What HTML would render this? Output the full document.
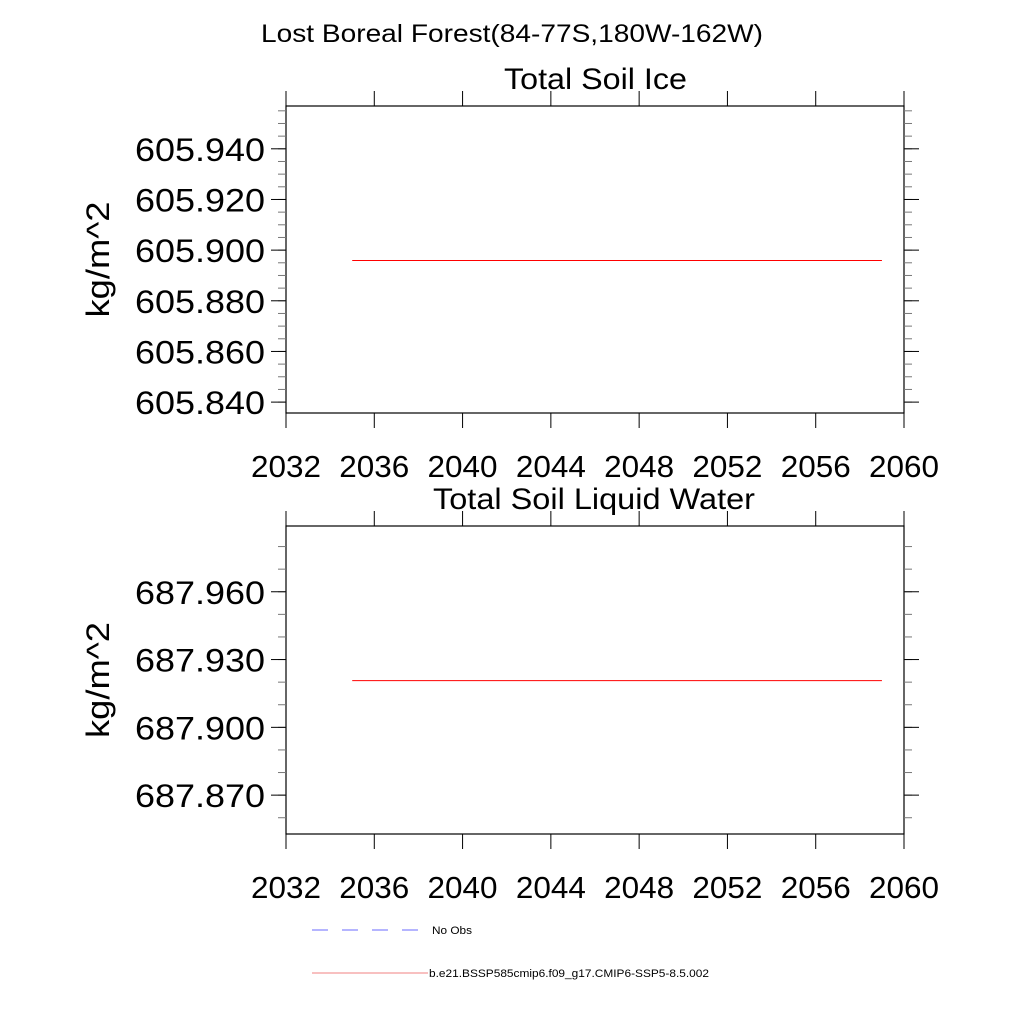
<!DOCTYPE html>
<html><head><meta charset="utf-8"><style>
body{margin:0;background:#fff;}
svg{display:block;font-family:"Liberation Sans",sans-serif;}
</style></head><body>
<svg id="c" width="1024" height="1024" viewBox="0 0 1024 1024">
<text x="512" y="42" font-size="25" text-anchor="middle" textLength="502" lengthAdjust="spacingAndGlyphs">Lost Boreal Forest(84-77S,180W-162W)</text>
<g>
<line x1="312" y1="930" x2="420" y2="930" stroke="#6b6bff" stroke-width="1" stroke-dasharray="16,14"/>
<text x="432" y="934" font-size="11" textLength="40" lengthAdjust="spacingAndGlyphs">No Obs</text>
<line x1="312" y1="973" x2="428" y2="973" stroke="#f08080" stroke-width="1"/>
<text x="429" y="977" font-size="11" textLength="280" lengthAdjust="spacingAndGlyphs">b.e21.BSSP585cmip6.f09_g17.CMIP6-SSP5-8.5.002</text>
</g>
</svg>
<script>
const years1 = [2035, 2059];
const ice = [605.8959, 605.8959];
const years2 = [2035, 2059];
const liquid = [687.9207, 687.9207];
const xTicks = [2032, 2036, 2040, 2044, 2048, 2052, 2056, 2060];
const yTicks1 = [605.84, 605.86, 605.88, 605.90, 605.92, 605.94];
const yTicks2 = [687.87, 687.90, 687.93, 687.96];

const NS = "http://www.w3.org/2000/svg";
const svg = document.getElementById('c');
function mk(tag, attrs, parent) {
  const e = document.createElementNS(NS, tag);
  for (const k in attrs) e.setAttribute(k, attrs[k]);
  (parent || svg).appendChild(e);
  return e;
}
function panel(cfg) {
  const g = mk('g', {});
  
  
  const L = 286, R = 904, T = cfg.top, B = cfg.bottom;
  const xs = v => L + (v - 2032) / 28 * (R - L);
  const ys = v => B - (v - cfg.ymin) / (cfg.ymax - cfg.ymin) * (B - T);
  const frame = mk('rect', {x: L, y: T, width: R - L, height: B - T, fill: 'none', stroke: '#000', 'stroke-width': 1.2}, g);
  
  
  const tt = mk('text', {x: cfg.titleX, y: T - 17, 'font-size': 30, textLength: cfg.titleW, lengthAdjust: 'spacingAndGlyphs'}, g);
  tt.textContent = cfg.title;
  
  
  xTicks.forEach(v => {
    const x = xs(v);
    mk('line', {x1: x, y1: T - 15, x2: x, y2: T, stroke: '#000'}, g);
    mk('line', {x1: x, y1: B, x2: x, y2: B + 15, stroke: '#000'}, g);
    const t = mk('text', {x: x - 35, y: B + 64, 'font-size': 31, textLength: 70, lengthAdjust: 'spacingAndGlyphs'}, g);
    t.textContent = v;
    
    
  });
  for (let v = Math.ceil(cfg.ymin / cfg.minor) * cfg.minor; v <= cfg.ymax; v += cfg.minor) {
    const y = ys(v);
    if (y < T - 0.5 || y > B + 0.5) continue;
    mk('line', {x1: L - 8, y1: y, x2: L, y2: y, stroke: '#777'}, g);
    mk('line', {x1: R, y1: y, x2: R + 8, y2: y, stroke: '#777'}, g);
  }
  cfg.ticks.forEach(v => {
    const y = ys(v);
    mk('line', {x1: L - 15, y1: y, x2: L, y2: y, stroke: '#000'}, g);
    mk('line', {x1: R, y1: y, x2: R + 15, y2: y, stroke: '#000'}, g);
    const t = mk('text', {x: 135, y: y + 12, 'font-size': 32, textLength: 130, lengthAdjust: 'spacingAndGlyphs'}, g);
    t.textContent = v.toFixed(3);
    
    
  });
  const cy = (T + B) / 2;
  const yl = mk('text', {x: cy + 58, y: 109, 'font-size': 32, textLength: 116, lengthAdjust: 'spacingAndGlyphs', transform: `rotate(-90 ${cy + 58} 109) translate(0 0)`}, g);
  yl.setAttribute('x', 0); yl.setAttribute('y', 0);
  yl.setAttribute('transform', `translate(109 ${cy + 58}) rotate(-90)`);
  yl.textContent = 'kg/m^2';
  
  
  const pts = cfg.xv.map((v, i) => xs(v) + ',' + ys(cfg.yv[i])).join(' ');
  const pl = mk('polyline', {points: pts, fill: 'none', stroke: '#ff0000', 'stroke-width': 1}, g);
  
  
}
panel({name: 'panel-total-soil-ice', title: 'Total Soil Ice', titleX: 504, titleW: 183, top: 106, bottom: 413,
  ymin: 605.8357, ymax: 605.9569, minor: 0.005, ticks: yTicks1, xv: years1, yv: ice});
panel({name: 'panel-total-soil-liquid-water', title: 'Total Soil Liquid Water', titleX: 433, titleW: 322, top: 526, bottom: 834,
  ymin: 687.8528, ymax: 687.9891, minor: 0.01, ticks: yTicks2, xv: years2, yv: liquid});
</script>
</body></html>
